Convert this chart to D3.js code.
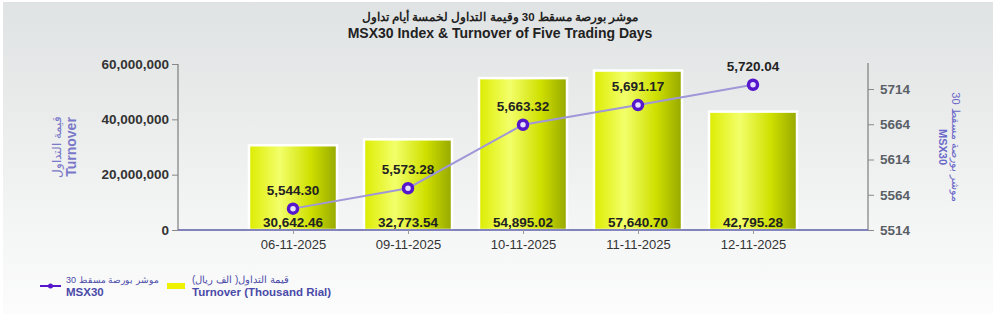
<!DOCTYPE html>
<html>
<head>
<meta charset="utf-8">
<script src="https://cdn.jsdelivr.net/npm/d3@7"></script>
<style>
  body { margin: 0; background: #fff; }
  svg { display: block; font-family: "Liberation Sans", Arial, sans-serif; }
</style>
</head>
<body>
<svg id="chart" width="1000" height="316"></svg>
<script>
'use strict';

const dates = ['06-11-2025', '09-11-2025', '10-11-2025', '11-11-2025', '12-11-2025'];
const turnover = [30642.46, 32773.54, 54895.02, 57640.70, 42795.28]; // thousand rial
const msx30 = [5544.30, 5573.28, 5663.32, 5691.17, 5720.04];
const leftTicks = [0, 20000000, 40000000, 60000000];
const rightTicks = [5514, 5564, 5614, 5664, 5714];

const svg = d3.select('#chart');
const defs = svg.append('defs');

const bg = defs.append('linearGradient').attr('id', 'bg').attr('x1', 0).attr('y1', 0).attr('x2', 0).attr('y2', 1);
bg.append('stop').attr('offset', '0%').attr('stop-color', '#e0e3e3');
bg.append('stop').attr('offset', '100%').attr('stop-color', '#fcfcfc');

const barGrad = defs.append('linearGradient').attr('id', 'bar').attr('x1', 0).attr('y1', 0).attr('x2', 1).attr('y2', 0);
barGrad.append('stop').attr('offset', '0%').attr('stop-color', '#dcec00');
barGrad.append('stop').attr('offset', '35%').attr('stop-color', '#f3ff6a');
barGrad.append('stop').attr('offset', '70%').attr('stop-color', '#cfe000');
barGrad.append('stop').attr('offset', '100%').attr('stop-color', '#97a800');

svg.append('rect').attr('x', 3).attr('y', 2).attr('width', 990).attr('height', 312).attr('fill', 'url(#bg)');

const plotL = 178, plotR = 868, plotT = 64, plotB = 230;

const x = d3.scalePoint().domain(dates).range([plotL, plotR]).padding(1);
const yL = d3.scaleLinear().domain([0, 60000000]).range([plotB, plotT]);
const yR = d3.scaleLinear().domain([5514, 5714]).range([plotB, 89]);

// title
svg.append('text').attr('x', 500).attr('y', 21).attr('text-anchor', 'middle')
  .attr('font-size', 11.5).attr('font-weight', 'bold').attr('fill', '#222')
  .text('موشر بورصة مسقط 30 وقيمة التداول لخمسة أيام تداول');
svg.append('text').attr('x', 500).attr('y', 38).attr('text-anchor', 'middle')
  .attr('font-size', 14).attr('font-weight', 'bold').attr('fill', '#222')
  .text('MSX30 Index & Turnover of Five Trading Days');

// bars
const barW = 88;
svg.append('g').selectAll('rect').data(turnover).join('rect')
  .attr('x', (d, i) => x(dates[i]) - barW / 2)
  .attr('y', (d) => yL(d * 1000))
  .attr('width', barW)
  .attr('height', (d) => plotB - yL(d * 1000))
  .attr('fill', 'url(#bar)')
  .attr('stroke', '#ffffff').attr('stroke-width', 2.5);

// axes
const axL = svg.append('g').attr('transform', `translate(${plotL},0)`)
  .call(d3.axisLeft(yL).tickValues(leftTicks).tickSize(6).tickPadding(3).tickFormat(d3.format(',')));
axL.select('.domain').attr('stroke', '#666').attr('d', `M0,${plotT}V${plotB}`);
axL.selectAll('.tick line').attr('stroke', '#888');
axL.selectAll('.tick text').attr('font-size', 13.5).attr('font-weight', 'bold').attr('fill', '#333')
  .attr('font-family', '"Liberation Sans", Arial, sans-serif');

const axR = svg.append('g').attr('transform', `translate(${plotR},0)`)
  .call(d3.axisRight(yR).tickValues(rightTicks).tickSize(6).tickPadding(6).tickFormat(d3.format('d')));
axR.select('.domain').attr('stroke', '#666').attr('d', `M0,${plotT - 1}V${plotB}`);
axR.selectAll('.tick line').attr('stroke', '#888');
axR.selectAll('.tick text').attr('font-size', 13.5).attr('font-weight', 'bold').attr('fill', '#5a5f66')
  .attr('font-family', '"Liberation Sans", Arial, sans-serif');

const axB = svg.append('g').attr('transform', `translate(0,${plotB})`)
  .call(d3.axisBottom(x).tickSize(4).tickPadding(6));
axB.select('.domain').attr('stroke', '#5c5ca8').attr('stroke-width', 1.5).attr('d', `M${plotL},0H${plotR}`);
axB.selectAll('.tick line').attr('stroke', '#999');
axB.selectAll('.tick text').attr('font-size', 13).attr('fill', '#333')
  .attr('font-family', '"Liberation Sans", Arial, sans-serif');

// axis titles
const lt = svg.append('g').attr('transform', 'translate(72,147) rotate(-90)');
lt.append('text').attr('text-anchor', 'middle').attr('y', -11).attr('font-size', 12)
  .attr('fill', '#7a78c8').text('قيمة التداول');
lt.append('text').attr('text-anchor', 'middle').attr('y', 4).attr('font-size', 14).attr('font-weight', 'bold')
  .attr('fill', '#7a78c8').text('Turnover');

const rt = svg.append('g').attr('transform', 'translate(948,147) rotate(90)');
rt.append('text').attr('text-anchor', 'middle').attr('y', -4).attr('font-size', 11)
  .attr('fill', '#6a68c8').text('موشر بورصة مسقط 30');
rt.append('text').attr('text-anchor', 'middle').attr('y', 9).attr('font-size', 11).attr('font-weight', 'bold')
  .attr('fill', '#6a68c8').text('MSX30');

// line
const line = d3.line().x((d, i) => x(dates[i])).y((d) => yR(d));
svg.append('path').datum(msx30).attr('d', line)
  .attr('fill', 'none').attr('stroke', '#a097d8').attr('stroke-width', 2);

svg.append('g').selectAll('circle').data(msx30).join('circle')
  .attr('cx', (d, i) => x(dates[i])).attr('cy', (d) => yR(d)).attr('r', 4.5)
  .attr('fill', '#e8e0ff').attr('stroke', '#5516cc').attr('stroke-width', 3.5);

// value labels
const fmt2 = d3.format(',.2f');
svg.append('g').selectAll('text').data(msx30).join('text')
  .attr('x', (d, i) => x(dates[i])).attr('y', (d) => yR(d) - 14)
  .attr('text-anchor', 'middle').attr('font-size', 13.5).attr('font-weight', 'bold').attr('fill', '#222')
  .text((d) => fmt2(d));
svg.append('g').selectAll('text').data(turnover).join('text')
  .attr('x', (d, i) => x(dates[i])).attr('y', plotB - 3)
  .attr('text-anchor', 'middle').attr('font-size', 13.5).attr('font-weight', 'bold').attr('fill', '#222')
  .text((d) => fmt2(d));

// legend
const lg = svg.append('g');
lg.append('line').attr('x1', 40).attr('x2', 61).attr('y1', 286).attr('y2', 286)
  .attr('stroke', '#5516cc').attr('stroke-width', 2);
lg.append('circle').attr('cx', 50.5).attr('cy', 286).attr('r', 2.5).attr('fill', '#5516cc');
lg.append('text').attr('x', 66).attr('y', 283).attr('font-size', 9).attr('fill', '#4a4aa8')
  .text('موشر بورصة مسقط 30');
lg.append('text').attr('x', 66).attr('y', 296).attr('font-size', 11.5).attr('font-weight', 'bold')
  .attr('fill', '#4a4aa8').text('MSX30');

lg.append('rect').attr('x', 167).attr('y', 283).attr('width', 18).attr('height', 6).attr('fill', '#eef200');
lg.append('text').attr('x', 192).attr('y', 283).attr('font-size', 10).attr('fill', '#4a4aa8')
  .text('قيمة التداول( الف ريال)');
lg.append('text').attr('x', 192).attr('y', 296).attr('font-size', 11.5).attr('font-weight', 'bold')
  .attr('fill', '#4a4aa8').text('Turnover (Thousand Rial)');
</script>
</body>
</html>
